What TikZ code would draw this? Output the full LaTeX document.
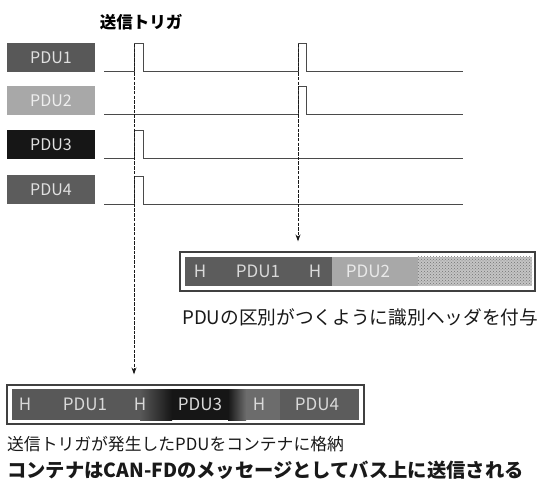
\documentclass[tikz,border=0pt]{standalone}
\usepackage{fontspec}
\setmainfont{Noto Sans CJK JP}
\usetikzlibrary{patterns,arrows.meta}
\definecolor{pdua}{HTML}{585858}
\definecolor{pdub}{HTML}{A8A8A8}
\definecolor{pduc}{HTML}{161616}
\definecolor{pdud}{HTML}{5C5C5C}
\definecolor{sigc}{HTML}{4A4A4A}
\definecolor{hatchbg}{HTML}{C4C4C4}
\tikzset{
  pdubox/.style={minimum width=88pt, minimum height=29pt, inner sep=0pt, text=white!88!black, font=\fontsize{16}{16}\selectfont},
  sig/.style={draw=sigc, line width=1pt},
  trig/.style={draw=black!90, line width=1pt, dash pattern=on 3.5pt off 1.2pt, -{Stealth[length=7pt,width=5pt]}, shorten >=10pt},
  cont/.style={draw=black!75, line width=1.2pt, inner sep=0pt, fill=white},
  seg/.style={text=white!85!black, font=\fontsize{17}{17}\selectfont, inner sep=0pt},
  lbl/.style={anchor=west, inner sep=0pt, text=black!90}
}
\begin{document}
\begin{tikzpicture}[x=1pt,y=-1pt]
\useasboundingbox (0,0) rectangle (538,486);
\fill[white] (0,0) rectangle (538,486);

% title
\node[inner sep=0pt, font=\bfseries\fontsize{16.5}{16.5}\selectfont] (title) at (141,22) {送信トリガ};

% PDU labels
\node[pdubox, fill=pdua] (p1) at (51,57.5) {PDU1};
\node[pdubox, fill=pdub, text=white!80!pdub] (p2) at (51,101) {PDU2};
\node[pdubox, fill=pduc] (p3) at (51,145) {PDU3};
\node[pdubox, fill=pdud] (p4) at (51,190) {PDU4};

% signals
\draw[sig] (104,72) -- (134,72) -- (134,44) -- (143,44) -- (143,72) -- (298,72) -- (298,44) -- (306,44) -- (306,72) -- (463,72);
\draw[sig] (104,115) -- (298,115) -- (298,87) -- (306,87) -- (306,115) -- (463,115);
\draw[sig] (104,159) -- (134,159) -- (134,131) -- (143,131) -- (143,159) -- (463,159);
\draw[sig] (104,205) -- (134,205) -- (134,177) -- (143,177) -- (143,205) -- (463,205);

% container 1 (middle)
\node[cont, minimum width=355pt, minimum height=39pt] (c1) at (357.5,271.5) {};
\fill[pdud] (185,257) rectangle (332,286);
\fill[pdub] (332,257) rectangle (418,286);
\fill[hatchbg] (418,257) rectangle (532,286);
\fill[pattern=crosshatch dots, pattern color=gray!90!black] (418,257) rectangle (532,286);
\node[seg] (m1) at (200,271.5) {H};
\node[seg] (m2) at (258,271.5) {PDU1};
\node[seg] (m3) at (315,271.5) {H};
\node[seg, text=white!75!pdub] (m4) at (368,271.5) {PDU2};

% container 2 (bottom)
\node[cont, minimum width=357pt, minimum height=39pt] (c2) at (185.5,404.5) {};
\fill[pdua] (12,389) rectangle (140,420);
\shade[left color=pdua, right color=pduc] (140,389) rectangle (172,420);
\fill[pduc] (172,389) rectangle (228,420);
\shade[left color=pduc, right color=pdud!90!white] (228,389) rectangle (246,420);
\fill[pdud!90!white] (246,389) rectangle (280,420);
\fill[pdud] (280,389) rectangle (359,420);
\node[seg] (b1) at (25,404.5) {H};
\node[seg] (b2) at (85,404.5) {PDU1};
\node[seg] (b3) at (140,404.5) {H};
\node[seg] (b4) at (200,404.5) {PDU3};
\node[seg] (b5) at (259,404.5) {H};
\node[seg] (b6) at (317,404.5) {PDU4};

% trigger lines
\coordinate (t1) at (134,44);
\coordinate (t2) at (298,44);
\draw[trig] (t1) -- (t1 |- c2.north);
\draw[trig] (t2) -- (t2 |- c1.north);

% texts
\node[lbl, font=\fontsize{18.7}{18.7}\selectfont] (txm) at (182,317) {PDUの区別がつくように識別ヘッダを付与};
\node[lbl, font=\fontsize{16.8}{16.8}\selectfont] (txb1) at (7,444) {送信トリガが発生したPDUをコンテナに格納};
\node[lbl, font=\bfseries\fontsize{19.3}{19.3}\selectfont] (txb2) at (7,470) {コンテナはCAN-FDのメッセージとしてバス上に送信される};
\end{tikzpicture}
\end{document}
